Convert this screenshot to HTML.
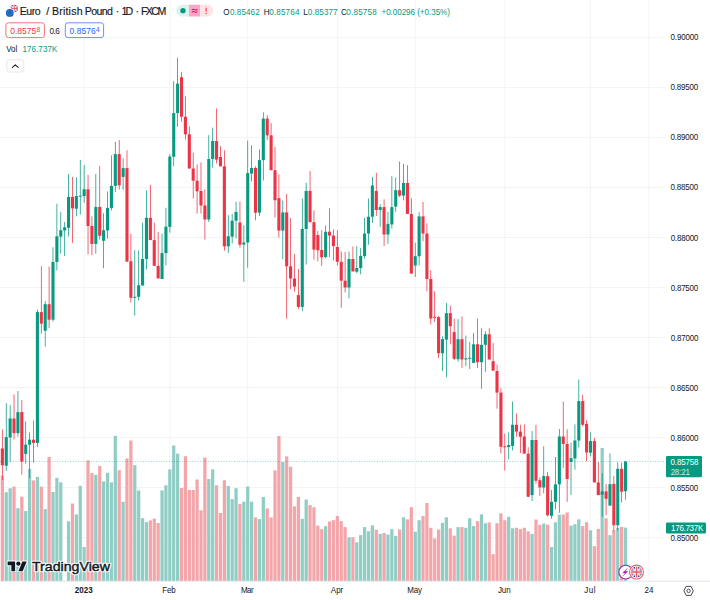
<!DOCTYPE html>
<html><head><meta charset="utf-8"><title>EURGBP</title>
<style>
html,body{margin:0;padding:0;background:#fff;}
body{width:710px;height:600px;position:relative;overflow:hidden;font-family:"Liberation Sans",sans-serif;color:#131722;}
svg.chart{position:absolute;left:0;top:0;}
.t{position:absolute;white-space:nowrap;line-height:1;}
</style></head><body>
<svg class="chart" width="710" height="600" viewBox="0 0 710 600">
<rect x="0" y="36.9" width="665" height="0.8" fill="#f1f1f3"/>
<rect x="0" y="86.94" width="665" height="0.8" fill="#f1f1f3"/>
<rect x="0" y="136.98" width="665" height="0.8" fill="#f1f1f3"/>
<rect x="0" y="187.02" width="665" height="0.8" fill="#f1f1f3"/>
<rect x="0" y="237.06" width="665" height="0.8" fill="#f1f1f3"/>
<rect x="0" y="287.1" width="665" height="0.8" fill="#f1f1f3"/>
<rect x="0" y="337.14" width="665" height="0.8" fill="#f1f1f3"/>
<rect x="0" y="387.18" width="665" height="0.8" fill="#f1f1f3"/>
<rect x="0" y="437.22" width="665" height="0.8" fill="#f1f1f3"/>
<rect x="0" y="487.26" width="665" height="0.8" fill="#f1f1f3"/>
<rect x="0" y="537.3" width="665" height="0.8" fill="#f1f1f3"/>
<rect x="83.74" y="0" width="0.8" height="581" fill="#f1f1f3"/>
<rect x="169.44" y="0" width="0.8" height="581" fill="#f1f1f3"/>
<rect x="247.33" y="0" width="0.8" height="581" fill="#f1f1f3"/>
<rect x="336.92" y="0" width="0.8" height="581" fill="#f1f1f3"/>
<rect x="414.82" y="0" width="0.8" height="581" fill="#f1f1f3"/>
<rect x="504.41" y="0" width="0.8" height="581" fill="#f1f1f3"/>
<rect x="590.1" y="0" width="0.8" height="581" fill="#f1f1f3"/>
<rect x="648.52" y="0" width="0.8" height="581" fill="#f1f1f3"/>
<rect x="0.73" y="475.6" width="3.25" height="105.4" fill="#f3a5aa"/>
<rect x="4.62" y="492.2" width="3.25" height="88.8" fill="#90cdc5"/>
<rect x="8.52" y="488.3" width="3.25" height="92.7" fill="#90cdc5"/>
<rect x="12.41" y="486.6" width="3.25" height="94.4" fill="#f3a5aa"/>
<rect x="16.3" y="508.2" width="3.25" height="72.8" fill="#90cdc5"/>
<rect x="20.2" y="496.8" width="3.25" height="84.2" fill="#f3a5aa"/>
<rect x="24.1" y="511.1" width="3.25" height="69.9" fill="#90cdc5"/>
<rect x="27.99" y="468.9" width="3.25" height="112.1" fill="#90cdc5"/>
<rect x="31.88" y="480.4" width="3.25" height="100.6" fill="#f3a5aa"/>
<rect x="35.78" y="477" width="3.25" height="104" fill="#90cdc5"/>
<rect x="39.68" y="486.6" width="3.25" height="94.4" fill="#f3a5aa"/>
<rect x="43.57" y="509.1" width="3.25" height="71.9" fill="#90cdc5"/>
<rect x="47.47" y="457" width="3.25" height="124" fill="#f3a5aa"/>
<rect x="51.36" y="492" width="3.25" height="89" fill="#90cdc5"/>
<rect x="55.26" y="477.8" width="3.25" height="103.2" fill="#90cdc5"/>
<rect x="59.15" y="482.4" width="3.25" height="98.6" fill="#90cdc5"/>
<rect x="66.94" y="521.3" width="3.25" height="59.7" fill="#90cdc5"/>
<rect x="70.83" y="503.5" width="3.25" height="77.5" fill="#f3a5aa"/>
<rect x="74.73" y="514.5" width="3.25" height="66.5" fill="#90cdc5"/>
<rect x="78.62" y="485.8" width="3.25" height="95.2" fill="#90cdc5"/>
<rect x="82.52" y="547" width="3.25" height="34" fill="#90cdc5"/>
<rect x="86.41" y="460.4" width="3.25" height="120.6" fill="#f3a5aa"/>
<rect x="90.31" y="473.1" width="3.25" height="107.9" fill="#f3a5aa"/>
<rect x="94.2" y="474.8" width="3.25" height="106.2" fill="#90cdc5"/>
<rect x="98.1" y="466" width="3.25" height="115" fill="#f3a5aa"/>
<rect x="101.99" y="481.5" width="3.25" height="99.5" fill="#90cdc5"/>
<rect x="105.89" y="472.8" width="3.25" height="108.2" fill="#90cdc5"/>
<rect x="109.78" y="482.4" width="3.25" height="98.6" fill="#90cdc5"/>
<rect x="113.68" y="435.9" width="3.25" height="145.1" fill="#90cdc5"/>
<rect x="117.57" y="470.2" width="3.25" height="110.8" fill="#f3a5aa"/>
<rect x="121.47" y="501.8" width="3.25" height="79.2" fill="#90cdc5"/>
<rect x="125.36" y="458.4" width="3.25" height="122.6" fill="#f3a5aa"/>
<rect x="129.26" y="440.5" width="3.25" height="140.5" fill="#f3a5aa"/>
<rect x="133.16" y="465.2" width="3.25" height="115.8" fill="#90cdc5"/>
<rect x="137.05" y="490.5" width="3.25" height="90.5" fill="#90cdc5"/>
<rect x="140.94" y="518.2" width="3.25" height="62.8" fill="#90cdc5"/>
<rect x="144.84" y="522.1" width="3.25" height="58.9" fill="#90cdc5"/>
<rect x="148.73" y="520.4" width="3.25" height="60.6" fill="#f3a5aa"/>
<rect x="152.63" y="518.7" width="3.25" height="62.3" fill="#f3a5aa"/>
<rect x="156.53" y="523" width="3.25" height="58" fill="#f3a5aa"/>
<rect x="160.42" y="490.5" width="3.25" height="90.5" fill="#90cdc5"/>
<rect x="164.31" y="485.3" width="3.25" height="95.7" fill="#90cdc5"/>
<rect x="168.21" y="469.4" width="3.25" height="111.6" fill="#90cdc5"/>
<rect x="172.1" y="445.5" width="3.25" height="135.5" fill="#90cdc5"/>
<rect x="176" y="453.7" width="3.25" height="127.3" fill="#90cdc5"/>
<rect x="179.89" y="488" width="3.25" height="93" fill="#f3a5aa"/>
<rect x="183.79" y="456.2" width="3.25" height="124.8" fill="#f3a5aa"/>
<rect x="187.69" y="490" width="3.25" height="91" fill="#f3a5aa"/>
<rect x="191.58" y="490" width="3.25" height="91" fill="#f3a5aa"/>
<rect x="195.47" y="479.5" width="3.25" height="101.5" fill="#f3a5aa"/>
<rect x="199.37" y="510.3" width="3.25" height="70.7" fill="#f3a5aa"/>
<rect x="203.26" y="457.5" width="3.25" height="123.5" fill="#f3a5aa"/>
<rect x="207.16" y="479" width="3.25" height="102" fill="#90cdc5"/>
<rect x="211.06" y="469.4" width="3.25" height="111.6" fill="#90cdc5"/>
<rect x="214.95" y="485.3" width="3.25" height="95.7" fill="#f3a5aa"/>
<rect x="218.84" y="513" width="3.25" height="68" fill="#f3a5aa"/>
<rect x="222.74" y="480.2" width="3.25" height="100.8" fill="#f3a5aa"/>
<rect x="226.63" y="486" width="3.25" height="95" fill="#90cdc5"/>
<rect x="230.53" y="499.2" width="3.25" height="81.8" fill="#90cdc5"/>
<rect x="234.42" y="488.2" width="3.25" height="92.8" fill="#90cdc5"/>
<rect x="238.32" y="503.9" width="3.25" height="77.1" fill="#f3a5aa"/>
<rect x="242.22" y="501.7" width="3.25" height="79.3" fill="#90cdc5"/>
<rect x="246.11" y="486.5" width="3.25" height="94.5" fill="#90cdc5"/>
<rect x="250" y="501.7" width="3.25" height="79.3" fill="#90cdc5"/>
<rect x="253.9" y="517.4" width="3.25" height="63.6" fill="#f3a5aa"/>
<rect x="257.8" y="519.1" width="3.25" height="61.9" fill="#90cdc5"/>
<rect x="261.69" y="497" width="3.25" height="84" fill="#90cdc5"/>
<rect x="265.59" y="508.4" width="3.25" height="72.6" fill="#f3a5aa"/>
<rect x="269.48" y="517.4" width="3.25" height="63.6" fill="#f3a5aa"/>
<rect x="273.38" y="470.4" width="3.25" height="110.6" fill="#f3a5aa"/>
<rect x="277.27" y="436" width="3.25" height="145" fill="#f3a5aa"/>
<rect x="281.17" y="462" width="3.25" height="119" fill="#90cdc5"/>
<rect x="285.06" y="456.4" width="3.25" height="124.6" fill="#f3a5aa"/>
<rect x="288.96" y="466.7" width="3.25" height="114.3" fill="#f3a5aa"/>
<rect x="292.85" y="506.4" width="3.25" height="74.6" fill="#f3a5aa"/>
<rect x="296.75" y="497" width="3.25" height="84" fill="#f3a5aa"/>
<rect x="300.64" y="518.9" width="3.25" height="62.1" fill="#90cdc5"/>
<rect x="304.54" y="499.5" width="3.25" height="81.5" fill="#90cdc5"/>
<rect x="308.43" y="505.1" width="3.25" height="75.9" fill="#f3a5aa"/>
<rect x="312.33" y="507.3" width="3.25" height="73.7" fill="#f3a5aa"/>
<rect x="316.22" y="525.7" width="3.25" height="55.3" fill="#f3a5aa"/>
<rect x="320.12" y="529.2" width="3.25" height="51.8" fill="#f3a5aa"/>
<rect x="324.01" y="526.2" width="3.25" height="54.8" fill="#90cdc5"/>
<rect x="327.91" y="521.5" width="3.25" height="59.5" fill="#f3a5aa"/>
<rect x="331.8" y="520.2" width="3.25" height="60.8" fill="#f3a5aa"/>
<rect x="335.7" y="516" width="3.25" height="65" fill="#f3a5aa"/>
<rect x="339.59" y="521.2" width="3.25" height="59.8" fill="#f3a5aa"/>
<rect x="343.49" y="527.1" width="3.25" height="53.9" fill="#f3a5aa"/>
<rect x="347.38" y="537.3" width="3.25" height="43.7" fill="#90cdc5"/>
<rect x="351.28" y="537.3" width="3.25" height="43.7" fill="#f3a5aa"/>
<rect x="355.17" y="542.3" width="3.25" height="38.7" fill="#90cdc5"/>
<rect x="359.06" y="535.1" width="3.25" height="45.9" fill="#90cdc5"/>
<rect x="362.96" y="527.1" width="3.25" height="53.9" fill="#90cdc5"/>
<rect x="366.86" y="531.2" width="3.25" height="49.8" fill="#90cdc5"/>
<rect x="370.75" y="525.4" width="3.25" height="55.6" fill="#90cdc5"/>
<rect x="374.65" y="529.7" width="3.25" height="51.3" fill="#f3a5aa"/>
<rect x="378.54" y="533.9" width="3.25" height="47.1" fill="#90cdc5"/>
<rect x="382.44" y="533" width="3.25" height="48" fill="#f3a5aa"/>
<rect x="386.33" y="534.6" width="3.25" height="46.4" fill="#90cdc5"/>
<rect x="390.23" y="529.2" width="3.25" height="51.8" fill="#90cdc5"/>
<rect x="394.12" y="535.9" width="3.25" height="45.1" fill="#90cdc5"/>
<rect x="398.02" y="529.5" width="3.25" height="51.5" fill="#f3a5aa"/>
<rect x="401.91" y="517.3" width="3.25" height="63.7" fill="#90cdc5"/>
<rect x="405.81" y="519.4" width="3.25" height="61.6" fill="#f3a5aa"/>
<rect x="409.7" y="507.2" width="3.25" height="73.8" fill="#f3a5aa"/>
<rect x="413.6" y="531.7" width="3.25" height="49.3" fill="#90cdc5"/>
<rect x="417.49" y="520.2" width="3.25" height="60.8" fill="#90cdc5"/>
<rect x="421.39" y="516" width="3.25" height="65" fill="#f3a5aa"/>
<rect x="425.28" y="503" width="3.25" height="78" fill="#f3a5aa"/>
<rect x="429.18" y="527.8" width="3.25" height="53.2" fill="#f3a5aa"/>
<rect x="433.07" y="538.4" width="3.25" height="42.6" fill="#f3a5aa"/>
<rect x="436.97" y="529.5" width="3.25" height="51.5" fill="#f3a5aa"/>
<rect x="440.86" y="522.9" width="3.25" height="58.1" fill="#90cdc5"/>
<rect x="444.76" y="517.3" width="3.25" height="63.7" fill="#90cdc5"/>
<rect x="448.65" y="528.3" width="3.25" height="52.7" fill="#f3a5aa"/>
<rect x="452.55" y="535.6" width="3.25" height="45.4" fill="#f3a5aa"/>
<rect x="456.44" y="527.1" width="3.25" height="53.9" fill="#90cdc5"/>
<rect x="460.34" y="527.1" width="3.25" height="53.9" fill="#f3a5aa"/>
<rect x="464.23" y="527.8" width="3.25" height="53.2" fill="#90cdc5"/>
<rect x="468.12" y="518.2" width="3.25" height="62.8" fill="#90cdc5"/>
<rect x="472.02" y="526.1" width="3.25" height="54.9" fill="#90cdc5"/>
<rect x="475.92" y="521.2" width="3.25" height="59.8" fill="#f3a5aa"/>
<rect x="479.81" y="514.3" width="3.25" height="66.7" fill="#90cdc5"/>
<rect x="483.71" y="523.2" width="3.25" height="57.8" fill="#90cdc5"/>
<rect x="487.6" y="522.4" width="3.25" height="58.6" fill="#f3a5aa"/>
<rect x="491.5" y="554.2" width="3.25" height="26.8" fill="#f3a5aa"/>
<rect x="495.39" y="523.2" width="3.25" height="57.8" fill="#f3a5aa"/>
<rect x="499.29" y="513.4" width="3.25" height="67.6" fill="#f3a5aa"/>
<rect x="503.18" y="520.2" width="3.25" height="60.8" fill="#f3a5aa"/>
<rect x="507.08" y="516.8" width="3.25" height="64.2" fill="#90cdc5"/>
<rect x="510.97" y="528.3" width="3.25" height="52.7" fill="#90cdc5"/>
<rect x="514.87" y="527.8" width="3.25" height="53.2" fill="#f3a5aa"/>
<rect x="518.76" y="529.2" width="3.25" height="51.8" fill="#f3a5aa"/>
<rect x="522.65" y="527.8" width="3.25" height="53.2" fill="#f3a5aa"/>
<rect x="526.55" y="531.3" width="3.25" height="49.7" fill="#f3a5aa"/>
<rect x="530.45" y="533.9" width="3.25" height="47.1" fill="#90cdc5"/>
<rect x="534.34" y="519.5" width="3.25" height="61.5" fill="#f3a5aa"/>
<rect x="538.24" y="524.9" width="3.25" height="56.1" fill="#f3a5aa"/>
<rect x="542.13" y="523.6" width="3.25" height="57.4" fill="#90cdc5"/>
<rect x="546.02" y="524.7" width="3.25" height="56.3" fill="#f3a5aa"/>
<rect x="549.92" y="547" width="3.25" height="34" fill="#90cdc5"/>
<rect x="553.82" y="522.3" width="3.25" height="58.7" fill="#90cdc5"/>
<rect x="557.71" y="514.7" width="3.25" height="66.3" fill="#90cdc5"/>
<rect x="561.61" y="514.6" width="3.25" height="66.4" fill="#f3a5aa"/>
<rect x="565.5" y="512.5" width="3.25" height="68.5" fill="#f3a5aa"/>
<rect x="569.39" y="525.6" width="3.25" height="55.4" fill="#90cdc5"/>
<rect x="573.29" y="524.2" width="3.25" height="56.8" fill="#90cdc5"/>
<rect x="577.19" y="519.3" width="3.25" height="61.7" fill="#90cdc5"/>
<rect x="581.08" y="526.1" width="3.25" height="54.9" fill="#f3a5aa"/>
<rect x="584.98" y="522.2" width="3.25" height="58.8" fill="#f3a5aa"/>
<rect x="588.87" y="530.3" width="3.25" height="50.7" fill="#90cdc5"/>
<rect x="592.76" y="546.2" width="3.25" height="34.8" fill="#f3a5aa"/>
<rect x="596.66" y="528.9" width="3.25" height="52.1" fill="#f3a5aa"/>
<rect x="600.56" y="448" width="3.25" height="133" fill="#90cdc5"/>
<rect x="604.45" y="518.3" width="3.25" height="62.7" fill="#f3a5aa"/>
<rect x="608.35" y="535.2" width="3.25" height="45.8" fill="#90cdc5"/>
<rect x="612.24" y="530.3" width="3.25" height="50.7" fill="#f3a5aa"/>
<rect x="616.13" y="528" width="3.25" height="53" fill="#90cdc5"/>
<rect x="620.03" y="526.9" width="3.25" height="54.1" fill="#f3a5aa"/>
<rect x="623.93" y="527.6" width="3.25" height="53.4" fill="#90cdc5"/>
<rect x="1.98" y="429.5" width="0.75" height="50.5" fill="#ec3446"/>
<rect x="0.8" y="448.4" width="3.1" height="16.9" fill="#ec3446"/>
<rect x="5.87" y="403.2" width="0.75" height="67.6" fill="#089981"/>
<rect x="4.7" y="437.1" width="3.1" height="28.6" fill="#089981"/>
<rect x="9.77" y="405" width="0.75" height="57" fill="#089981"/>
<rect x="8.59" y="418.5" width="3.1" height="19" fill="#089981"/>
<rect x="13.66" y="394.4" width="0.75" height="45.1" fill="#ec3446"/>
<rect x="12.48" y="418.5" width="3.1" height="14.7" fill="#ec3446"/>
<rect x="17.55" y="391" width="0.75" height="45.6" fill="#089981"/>
<rect x="16.38" y="412.1" width="3.1" height="21.1" fill="#089981"/>
<rect x="21.45" y="400" width="0.75" height="74.6" fill="#ec3446"/>
<rect x="20.28" y="412.1" width="3.1" height="49.5" fill="#ec3446"/>
<rect x="25.35" y="421.4" width="0.75" height="42.3" fill="#089981"/>
<rect x="24.17" y="444.6" width="3.1" height="9.3" fill="#089981"/>
<rect x="29.24" y="432.4" width="0.75" height="45.6" fill="#089981"/>
<rect x="28.07" y="439.7" width="3.1" height="5" fill="#089981"/>
<rect x="33.13" y="420.6" width="0.75" height="42.2" fill="#ec3446"/>
<rect x="31.96" y="439.7" width="3.1" height="3.2" fill="#ec3446"/>
<rect x="37.03" y="309.6" width="0.75" height="137.5" fill="#089981"/>
<rect x="35.86" y="312.1" width="3.1" height="130.8" fill="#089981"/>
<rect x="40.93" y="266.2" width="0.75" height="67.5" fill="#ec3446"/>
<rect x="39.75" y="312.1" width="3.1" height="11.5" fill="#ec3446"/>
<rect x="44.82" y="301.1" width="0.75" height="45.7" fill="#089981"/>
<rect x="43.65" y="304.2" width="3.1" height="26.5" fill="#089981"/>
<rect x="48.72" y="266.5" width="0.75" height="61.7" fill="#ec3446"/>
<rect x="47.54" y="304.2" width="3.1" height="15.5" fill="#ec3446"/>
<rect x="52.61" y="247.3" width="0.75" height="74.1" fill="#089981"/>
<rect x="51.44" y="262" width="3.1" height="57.7" fill="#089981"/>
<rect x="56.51" y="203.7" width="0.75" height="66.7" fill="#089981"/>
<rect x="55.33" y="236.3" width="3.1" height="25.7" fill="#089981"/>
<rect x="60.4" y="212.1" width="0.75" height="41.4" fill="#089981"/>
<rect x="59.23" y="230.2" width="3.1" height="6.4" fill="#089981"/>
<rect x="64.3" y="222" width="0.75" height="34" fill="#089981"/>
<rect x="63.12" y="227.3" width="3.1" height="3.1" fill="#089981"/>
<rect x="68.19" y="174" width="0.75" height="62.6" fill="#089981"/>
<rect x="67.02" y="196.9" width="3.1" height="30.9" fill="#089981"/>
<rect x="72.08" y="176.9" width="0.75" height="66" fill="#ec3446"/>
<rect x="70.91" y="196.9" width="3.1" height="11.5" fill="#ec3446"/>
<rect x="75.98" y="177.4" width="0.75" height="38.9" fill="#089981"/>
<rect x="74.8" y="196" width="3.1" height="12.7" fill="#089981"/>
<rect x="79.88" y="160" width="0.75" height="54.6" fill="#089981"/>
<rect x="78.7" y="195.65" width="3.1" height="1" fill="#089981"/>
<rect x="83.77" y="165" width="0.75" height="37.8" fill="#089981"/>
<rect x="82.59" y="189.3" width="3.1" height="6.7" fill="#089981"/>
<rect x="87.66" y="174.9" width="0.75" height="79.5" fill="#ec3446"/>
<rect x="86.49" y="189.3" width="3.1" height="36.7" fill="#ec3446"/>
<rect x="91.56" y="216.3" width="0.75" height="38.9" fill="#ec3446"/>
<rect x="90.38" y="226" width="3.1" height="17.9" fill="#ec3446"/>
<rect x="95.45" y="173.9" width="0.75" height="79.6" fill="#089981"/>
<rect x="94.28" y="207" width="3.1" height="36.9" fill="#089981"/>
<rect x="99.35" y="165.9" width="0.75" height="73.6" fill="#ec3446"/>
<rect x="98.17" y="207" width="3.1" height="28.8" fill="#ec3446"/>
<rect x="103.24" y="213.3" width="0.75" height="54.9" fill="#089981"/>
<rect x="102.07" y="230.2" width="3.1" height="10.6" fill="#089981"/>
<rect x="107.14" y="191.5" width="0.75" height="47.3" fill="#089981"/>
<rect x="105.97" y="207.9" width="3.1" height="22.5" fill="#089981"/>
<rect x="111.03" y="155.4" width="0.75" height="55" fill="#089981"/>
<rect x="109.86" y="185.9" width="3.1" height="22" fill="#089981"/>
<rect x="114.93" y="141.9" width="0.75" height="50.1" fill="#089981"/>
<rect x="113.75" y="154.1" width="3.1" height="31.8" fill="#089981"/>
<rect x="118.82" y="140" width="0.75" height="49.6" fill="#ec3446"/>
<rect x="117.65" y="154.1" width="3.1" height="31.2" fill="#ec3446"/>
<rect x="122.72" y="158.3" width="0.75" height="31.6" fill="#089981"/>
<rect x="121.55" y="168.1" width="3.1" height="8.8" fill="#089981"/>
<rect x="126.61" y="150.2" width="0.75" height="111.4" fill="#ec3446"/>
<rect x="125.44" y="168.1" width="3.1" height="93.5" fill="#ec3446"/>
<rect x="130.51" y="233.7" width="0.75" height="68.9" fill="#ec3446"/>
<rect x="129.33" y="261.2" width="3.1" height="36.6" fill="#ec3446"/>
<rect x="134.41" y="250.2" width="0.75" height="65.3" fill="#089981"/>
<rect x="133.23" y="296.8" width="3.1" height="1" fill="#089981"/>
<rect x="138.3" y="250.6" width="0.75" height="50" fill="#089981"/>
<rect x="137.12" y="285.2" width="3.1" height="11.6" fill="#089981"/>
<rect x="142.19" y="222.7" width="0.75" height="62.8" fill="#089981"/>
<rect x="141.02" y="259" width="3.1" height="26.5" fill="#089981"/>
<rect x="146.09" y="190.3" width="0.75" height="79.2" fill="#089981"/>
<rect x="144.91" y="217.8" width="3.1" height="41.2" fill="#089981"/>
<rect x="149.98" y="185" width="0.75" height="55.1" fill="#ec3446"/>
<rect x="148.81" y="217.8" width="3.1" height="22.3" fill="#ec3446"/>
<rect x="153.88" y="222.7" width="0.75" height="43.1" fill="#ec3446"/>
<rect x="152.7" y="240.1" width="3.1" height="25.7" fill="#ec3446"/>
<rect x="157.78" y="232" width="0.75" height="46.4" fill="#ec3446"/>
<rect x="156.6" y="265.8" width="3.1" height="12.6" fill="#ec3446"/>
<rect x="161.67" y="233.7" width="0.75" height="45.3" fill="#089981"/>
<rect x="160.49" y="253.1" width="3.1" height="25.9" fill="#089981"/>
<rect x="165.56" y="207.7" width="0.75" height="57.7" fill="#089981"/>
<rect x="164.39" y="226.6" width="3.1" height="26.5" fill="#089981"/>
<rect x="169.46" y="154.1" width="0.75" height="78.7" fill="#089981"/>
<rect x="168.28" y="156.6" width="3.1" height="70.3" fill="#089981"/>
<rect x="173.35" y="81.1" width="0.75" height="85.2" fill="#089981"/>
<rect x="172.18" y="113.1" width="3.1" height="43.7" fill="#089981"/>
<rect x="177.25" y="57.7" width="0.75" height="69.1" fill="#089981"/>
<rect x="176.07" y="83.6" width="3.1" height="29.5" fill="#089981"/>
<rect x="181.14" y="71.8" width="0.75" height="49.9" fill="#ec3446"/>
<rect x="179.97" y="77.2" width="3.1" height="39.5" fill="#ec3446"/>
<rect x="185.04" y="96.3" width="0.75" height="43.1" fill="#ec3446"/>
<rect x="183.86" y="116.7" width="3.1" height="17.6" fill="#ec3446"/>
<rect x="188.94" y="126.4" width="0.75" height="42.1" fill="#ec3446"/>
<rect x="187.76" y="134.3" width="3.1" height="34.2" fill="#ec3446"/>
<rect x="192.83" y="152.8" width="0.75" height="45.6" fill="#ec3446"/>
<rect x="191.65" y="168.5" width="3.1" height="12.2" fill="#ec3446"/>
<rect x="196.72" y="164.6" width="0.75" height="49" fill="#ec3446"/>
<rect x="195.55" y="180.7" width="3.1" height="10.6" fill="#ec3446"/>
<rect x="200.62" y="162.4" width="0.75" height="51.2" fill="#ec3446"/>
<rect x="199.44" y="191" width="3.1" height="14.5" fill="#ec3446"/>
<rect x="204.51" y="189.2" width="0.75" height="50.4" fill="#ec3446"/>
<rect x="203.34" y="205.5" width="3.1" height="14" fill="#ec3446"/>
<rect x="208.41" y="135.1" width="0.75" height="86.9" fill="#089981"/>
<rect x="207.23" y="159" width="3.1" height="60.5" fill="#089981"/>
<rect x="212.31" y="127.6" width="0.75" height="39.9" fill="#089981"/>
<rect x="211.13" y="141" width="3.1" height="18" fill="#089981"/>
<rect x="216.2" y="108.5" width="0.75" height="55" fill="#ec3446"/>
<rect x="215.02" y="141" width="3.1" height="18.6" fill="#ec3446"/>
<rect x="220.09" y="146" width="0.75" height="20.3" fill="#ec3446"/>
<rect x="218.92" y="157" width="3.1" height="9.3" fill="#ec3446"/>
<rect x="223.99" y="150.3" width="0.75" height="100.3" fill="#ec3446"/>
<rect x="222.81" y="166.3" width="3.1" height="80" fill="#ec3446"/>
<rect x="227.88" y="215.2" width="0.75" height="37.7" fill="#089981"/>
<rect x="226.71" y="236.3" width="3.1" height="10" fill="#089981"/>
<rect x="231.78" y="213.8" width="0.75" height="29.7" fill="#089981"/>
<rect x="230.6" y="220.7" width="3.1" height="16" fill="#089981"/>
<rect x="235.67" y="201.8" width="0.75" height="36.6" fill="#089981"/>
<rect x="234.5" y="211.9" width="3.1" height="8.8" fill="#089981"/>
<rect x="239.57" y="201.5" width="0.75" height="46.2" fill="#ec3446"/>
<rect x="238.39" y="222.5" width="3.1" height="22.2" fill="#ec3446"/>
<rect x="243.47" y="225.4" width="0.75" height="56.4" fill="#089981"/>
<rect x="242.29" y="242.5" width="3.1" height="2.1" fill="#089981"/>
<rect x="247.36" y="140.6" width="0.75" height="127.1" fill="#089981"/>
<rect x="246.18" y="173.1" width="3.1" height="69.4" fill="#089981"/>
<rect x="251.25" y="145.2" width="0.75" height="36.3" fill="#089981"/>
<rect x="250.08" y="168" width="3.1" height="5.6" fill="#089981"/>
<rect x="255.15" y="166.3" width="0.75" height="54" fill="#ec3446"/>
<rect x="253.97" y="168" width="3.1" height="44.7" fill="#ec3446"/>
<rect x="259.05" y="149.4" width="0.75" height="66.7" fill="#089981"/>
<rect x="257.87" y="160.1" width="3.1" height="52.6" fill="#089981"/>
<rect x="262.94" y="112.3" width="0.75" height="68.2" fill="#089981"/>
<rect x="261.76" y="118.6" width="3.1" height="41.5" fill="#089981"/>
<rect x="266.84" y="115.2" width="0.75" height="24.9" fill="#ec3446"/>
<rect x="265.66" y="118.6" width="3.1" height="16.7" fill="#ec3446"/>
<rect x="270.73" y="123.2" width="0.75" height="47" fill="#ec3446"/>
<rect x="269.56" y="135.3" width="3.1" height="34.9" fill="#ec3446"/>
<rect x="274.62" y="146.9" width="0.75" height="70.6" fill="#ec3446"/>
<rect x="273.45" y="170.2" width="3.1" height="30" fill="#ec3446"/>
<rect x="278.52" y="174.5" width="0.75" height="63.1" fill="#ec3446"/>
<rect x="277.35" y="198.2" width="3.1" height="32.4" fill="#ec3446"/>
<rect x="282.42" y="200.6" width="0.75" height="58.5" fill="#089981"/>
<rect x="281.24" y="212.4" width="3.1" height="18.2" fill="#089981"/>
<rect x="286.31" y="193.8" width="0.75" height="124.9" fill="#ec3446"/>
<rect x="285.13" y="212.4" width="3.1" height="53.9" fill="#ec3446"/>
<rect x="290.21" y="218" width="0.75" height="71.2" fill="#ec3446"/>
<rect x="289.03" y="266.3" width="3.1" height="12.2" fill="#ec3446"/>
<rect x="294.1" y="254" width="0.75" height="37.7" fill="#ec3446"/>
<rect x="292.93" y="278.5" width="3.1" height="8.1" fill="#ec3446"/>
<rect x="298" y="268.9" width="0.75" height="40.2" fill="#ec3446"/>
<rect x="296.82" y="295.1" width="3.1" height="11.8" fill="#ec3446"/>
<rect x="301.89" y="198.5" width="0.75" height="112.6" fill="#089981"/>
<rect x="300.72" y="229" width="3.1" height="77.9" fill="#089981"/>
<rect x="305.79" y="182.8" width="0.75" height="81.8" fill="#089981"/>
<rect x="304.61" y="190.9" width="3.1" height="38.1" fill="#089981"/>
<rect x="309.68" y="171" width="0.75" height="51.2" fill="#ec3446"/>
<rect x="308.5" y="190.9" width="3.1" height="31.3" fill="#ec3446"/>
<rect x="313.58" y="210.4" width="0.75" height="49.2" fill="#ec3446"/>
<rect x="312.4" y="222.2" width="3.1" height="27.4" fill="#ec3446"/>
<rect x="317.47" y="231" width="0.75" height="30.3" fill="#ec3446"/>
<rect x="316.3" y="235.1" width="3.1" height="15.2" fill="#ec3446"/>
<rect x="321.37" y="230.1" width="0.75" height="35.9" fill="#ec3446"/>
<rect x="320.19" y="250" width="3.1" height="7.3" fill="#ec3446"/>
<rect x="325.26" y="225.6" width="0.75" height="32.8" fill="#089981"/>
<rect x="324.09" y="231.8" width="3.1" height="25.3" fill="#089981"/>
<rect x="329.16" y="208.2" width="0.75" height="48.8" fill="#ec3446"/>
<rect x="327.98" y="231.7" width="3.1" height="3.9" fill="#ec3446"/>
<rect x="333.05" y="229.3" width="0.75" height="31.1" fill="#ec3446"/>
<rect x="331.88" y="235.6" width="3.1" height="10.5" fill="#ec3446"/>
<rect x="336.95" y="230.1" width="0.75" height="35.4" fill="#ec3446"/>
<rect x="335.77" y="247" width="3.1" height="14.8" fill="#ec3446"/>
<rect x="340.84" y="251.5" width="0.75" height="56.2" fill="#ec3446"/>
<rect x="339.67" y="261.8" width="3.1" height="18.9" fill="#ec3446"/>
<rect x="344.74" y="252" width="0.75" height="40.5" fill="#ec3446"/>
<rect x="343.56" y="280.7" width="3.1" height="6.8" fill="#ec3446"/>
<rect x="348.63" y="251.5" width="0.75" height="46.9" fill="#089981"/>
<rect x="347.46" y="259" width="3.1" height="28.5" fill="#089981"/>
<rect x="352.53" y="246.5" width="0.75" height="24.9" fill="#ec3446"/>
<rect x="351.35" y="259" width="3.1" height="12.4" fill="#ec3446"/>
<rect x="356.42" y="246.1" width="0.75" height="27" fill="#089981"/>
<rect x="355.25" y="268" width="3.1" height="3.7" fill="#089981"/>
<rect x="360.31" y="247.8" width="0.75" height="26.5" fill="#089981"/>
<rect x="359.14" y="255.8" width="3.1" height="12.2" fill="#089981"/>
<rect x="364.21" y="217.8" width="0.75" height="40.8" fill="#089981"/>
<rect x="363.04" y="233.5" width="3.1" height="22.5" fill="#089981"/>
<rect x="368.11" y="198.6" width="0.75" height="46.1" fill="#089981"/>
<rect x="366.93" y="216.7" width="3.1" height="16.8" fill="#089981"/>
<rect x="372" y="177" width="0.75" height="45.8" fill="#089981"/>
<rect x="370.82" y="185.5" width="3.1" height="31.2" fill="#089981"/>
<rect x="375.9" y="172.8" width="0.75" height="43.2" fill="#ec3446"/>
<rect x="374.72" y="191" width="3.1" height="19" fill="#ec3446"/>
<rect x="379.79" y="204.2" width="0.75" height="22.7" fill="#089981"/>
<rect x="378.62" y="207.1" width="3.1" height="2.9" fill="#089981"/>
<rect x="383.69" y="199.3" width="0.75" height="46.7" fill="#ec3446"/>
<rect x="382.51" y="207.1" width="3.1" height="27.4" fill="#ec3446"/>
<rect x="387.58" y="211.7" width="0.75" height="32.1" fill="#089981"/>
<rect x="386.41" y="223.9" width="3.1" height="10.6" fill="#089981"/>
<rect x="391.48" y="176.2" width="0.75" height="52.4" fill="#089981"/>
<rect x="390.3" y="207.1" width="3.1" height="17.3" fill="#089981"/>
<rect x="395.37" y="177.5" width="0.75" height="34.2" fill="#089981"/>
<rect x="394.19" y="190.2" width="3.1" height="16.4" fill="#089981"/>
<rect x="399.27" y="161.5" width="0.75" height="35.5" fill="#ec3446"/>
<rect x="398.09" y="190.2" width="3.1" height="5.4" fill="#ec3446"/>
<rect x="403.16" y="163.9" width="0.75" height="36.5" fill="#089981"/>
<rect x="401.99" y="183" width="3.1" height="12.6" fill="#089981"/>
<rect x="407.06" y="165.2" width="0.75" height="48.7" fill="#ec3446"/>
<rect x="405.88" y="183" width="3.1" height="30.9" fill="#ec3446"/>
<rect x="410.95" y="198.2" width="0.75" height="75.4" fill="#ec3446"/>
<rect x="409.78" y="213.9" width="3.1" height="59.7" fill="#ec3446"/>
<rect x="414.85" y="242.7" width="0.75" height="34.3" fill="#089981"/>
<rect x="413.67" y="256.2" width="3.1" height="9.3" fill="#089981"/>
<rect x="418.74" y="212.2" width="0.75" height="53.3" fill="#089981"/>
<rect x="417.56" y="216.4" width="3.1" height="39.8" fill="#089981"/>
<rect x="422.64" y="202" width="0.75" height="39.2" fill="#ec3446"/>
<rect x="421.46" y="216.4" width="3.1" height="17.1" fill="#ec3446"/>
<rect x="426.53" y="223.2" width="0.75" height="68" fill="#ec3446"/>
<rect x="425.36" y="233.5" width="3.1" height="45.5" fill="#ec3446"/>
<rect x="430.43" y="270.2" width="0.75" height="54.2" fill="#ec3446"/>
<rect x="429.25" y="279" width="3.1" height="39.6" fill="#ec3446"/>
<rect x="434.32" y="291.2" width="0.75" height="30.8" fill="#ec3446"/>
<rect x="433.15" y="316.9" width="3.1" height="1" fill="#ec3446"/>
<rect x="438.22" y="315.9" width="0.75" height="42.1" fill="#ec3446"/>
<rect x="437.04" y="317.2" width="3.1" height="36" fill="#ec3446"/>
<rect x="442.11" y="336.3" width="0.75" height="34.7" fill="#089981"/>
<rect x="440.94" y="339.2" width="3.1" height="14" fill="#089981"/>
<rect x="446.01" y="303" width="0.75" height="74.2" fill="#089981"/>
<rect x="444.83" y="313.2" width="3.1" height="26.5" fill="#089981"/>
<rect x="449.9" y="305.6" width="0.75" height="38.7" fill="#ec3446"/>
<rect x="448.73" y="313.2" width="3.1" height="13" fill="#ec3446"/>
<rect x="453.8" y="318.6" width="0.75" height="41.4" fill="#ec3446"/>
<rect x="452.62" y="332.1" width="3.1" height="26.7" fill="#ec3446"/>
<rect x="457.69" y="319.1" width="0.75" height="42.6" fill="#089981"/>
<rect x="456.51" y="339.2" width="3.1" height="20" fill="#089981"/>
<rect x="461.59" y="316.4" width="0.75" height="51.5" fill="#ec3446"/>
<rect x="460.41" y="339.2" width="3.1" height="20.3" fill="#ec3446"/>
<rect x="465.48" y="335.5" width="0.75" height="30.7" fill="#089981"/>
<rect x="464.31" y="358.3" width="3.1" height="1.2" fill="#089981"/>
<rect x="469.38" y="341.9" width="0.75" height="27.1" fill="#089981"/>
<rect x="468.2" y="357.8" width="3.1" height="1" fill="#089981"/>
<rect x="473.27" y="333" width="0.75" height="29.9" fill="#089981"/>
<rect x="472.1" y="344.3" width="3.1" height="18.6" fill="#089981"/>
<rect x="477.17" y="318.6" width="0.75" height="49.5" fill="#ec3446"/>
<rect x="475.99" y="344.3" width="3.1" height="17.9" fill="#ec3446"/>
<rect x="481.06" y="328.2" width="0.75" height="60.5" fill="#089981"/>
<rect x="479.88" y="344.8" width="3.1" height="17.4" fill="#089981"/>
<rect x="484.96" y="331.3" width="0.75" height="40.5" fill="#089981"/>
<rect x="483.78" y="334.3" width="3.1" height="10.5" fill="#089981"/>
<rect x="488.85" y="328.2" width="0.75" height="31.3" fill="#ec3446"/>
<rect x="487.68" y="334.3" width="3.1" height="25.2" fill="#ec3446"/>
<rect x="492.75" y="342.8" width="0.75" height="27.8" fill="#ec3446"/>
<rect x="491.57" y="361.2" width="3.1" height="9.4" fill="#ec3446"/>
<rect x="496.64" y="364.7" width="0.75" height="44" fill="#ec3446"/>
<rect x="495.47" y="371" width="3.1" height="21.6" fill="#ec3446"/>
<rect x="500.54" y="388" width="0.75" height="65.5" fill="#ec3446"/>
<rect x="499.36" y="392.6" width="3.1" height="54.2" fill="#ec3446"/>
<rect x="504.43" y="433.7" width="0.75" height="36.7" fill="#ec3446"/>
<rect x="503.25" y="446.3" width="3.1" height="1" fill="#ec3446"/>
<rect x="508.33" y="432.4" width="0.75" height="27" fill="#089981"/>
<rect x="507.15" y="445" width="3.1" height="2.1" fill="#089981"/>
<rect x="512.22" y="401.5" width="0.75" height="48.9" fill="#089981"/>
<rect x="511.05" y="424.8" width="3.1" height="21.1" fill="#089981"/>
<rect x="516.12" y="413.5" width="0.75" height="23.2" fill="#ec3446"/>
<rect x="514.94" y="424.8" width="3.1" height="6.8" fill="#ec3446"/>
<rect x="520.01" y="424.8" width="0.75" height="28.2" fill="#ec3446"/>
<rect x="518.84" y="431.6" width="3.1" height="5.1" fill="#ec3446"/>
<rect x="523.9" y="424.3" width="0.75" height="29.3" fill="#ec3446"/>
<rect x="522.73" y="436.5" width="3.1" height="17.1" fill="#ec3446"/>
<rect x="527.8" y="447.2" width="0.75" height="49.6" fill="#ec3446"/>
<rect x="526.63" y="453.6" width="3.1" height="43.2" fill="#ec3446"/>
<rect x="531.7" y="431" width="0.75" height="70" fill="#089981"/>
<rect x="530.52" y="440" width="3.1" height="55.1" fill="#089981"/>
<rect x="535.59" y="424.8" width="0.75" height="58.9" fill="#ec3446"/>
<rect x="534.42" y="440" width="3.1" height="40.7" fill="#ec3446"/>
<rect x="539.49" y="477.3" width="0.75" height="18.6" fill="#ec3446"/>
<rect x="538.31" y="480.2" width="3.1" height="7.3" fill="#ec3446"/>
<rect x="543.38" y="446.2" width="0.75" height="47.2" fill="#089981"/>
<rect x="542.21" y="476.1" width="3.1" height="11.4" fill="#089981"/>
<rect x="547.27" y="472.2" width="0.75" height="44.3" fill="#ec3446"/>
<rect x="546.1" y="476.1" width="3.1" height="39.2" fill="#ec3446"/>
<rect x="551.17" y="490" width="0.75" height="28.7" fill="#089981"/>
<rect x="550" y="501.8" width="3.1" height="14.1" fill="#089981"/>
<rect x="555.07" y="457" width="0.75" height="52.4" fill="#089981"/>
<rect x="553.89" y="484.4" width="3.1" height="17.4" fill="#089981"/>
<rect x="558.96" y="429" width="0.75" height="83.8" fill="#089981"/>
<rect x="557.79" y="436.5" width="3.1" height="47.9" fill="#089981"/>
<rect x="562.86" y="401.5" width="0.75" height="66.5" fill="#ec3446"/>
<rect x="561.68" y="436.5" width="3.1" height="7.4" fill="#ec3446"/>
<rect x="566.75" y="429.3" width="0.75" height="72.5" fill="#ec3446"/>
<rect x="565.58" y="443.9" width="3.1" height="35.1" fill="#ec3446"/>
<rect x="570.64" y="442.8" width="0.75" height="52.2" fill="#089981"/>
<rect x="569.47" y="458.2" width="3.1" height="3.8" fill="#089981"/>
<rect x="574.54" y="424.3" width="0.75" height="45.4" fill="#089981"/>
<rect x="573.37" y="440.5" width="3.1" height="18" fill="#089981"/>
<rect x="578.44" y="379.4" width="0.75" height="68.2" fill="#089981"/>
<rect x="577.26" y="401.1" width="3.1" height="39.4" fill="#089981"/>
<rect x="582.33" y="394.7" width="0.75" height="31.8" fill="#ec3446"/>
<rect x="581.16" y="401.1" width="3.1" height="23.7" fill="#ec3446"/>
<rect x="586.23" y="420.2" width="0.75" height="41" fill="#ec3446"/>
<rect x="585.05" y="423.9" width="3.1" height="28.5" fill="#ec3446"/>
<rect x="590.12" y="432.4" width="0.75" height="23.9" fill="#089981"/>
<rect x="588.95" y="441.1" width="3.1" height="11.6" fill="#089981"/>
<rect x="594.01" y="437.8" width="0.75" height="44.6" fill="#ec3446"/>
<rect x="592.84" y="441.1" width="3.1" height="41.3" fill="#ec3446"/>
<rect x="597.91" y="462" width="0.75" height="33.1" fill="#ec3446"/>
<rect x="596.74" y="482.4" width="3.1" height="12.7" fill="#ec3446"/>
<rect x="601.81" y="473.3" width="0.75" height="43.4" fill="#089981"/>
<rect x="600.63" y="491.4" width="3.1" height="3.4" fill="#089981"/>
<rect x="605.7" y="483.8" width="0.75" height="31.5" fill="#ec3446"/>
<rect x="604.53" y="491.3" width="3.1" height="7.5" fill="#ec3446"/>
<rect x="609.6" y="453.5" width="0.75" height="52.1" fill="#089981"/>
<rect x="608.42" y="484.2" width="3.1" height="21.4" fill="#089981"/>
<rect x="613.49" y="475.9" width="0.75" height="55.6" fill="#ec3446"/>
<rect x="612.32" y="483.9" width="3.1" height="41.3" fill="#ec3446"/>
<rect x="617.38" y="462.3" width="0.75" height="68.2" fill="#089981"/>
<rect x="616.21" y="468.8" width="3.1" height="56.4" fill="#089981"/>
<rect x="621.28" y="462.7" width="0.75" height="39.9" fill="#ec3446"/>
<rect x="620.11" y="468.8" width="3.1" height="22.9" fill="#ec3446"/>
<rect x="625.18" y="460.9" width="0.75" height="38.8" fill="#089981"/>
<rect x="624" y="461.5" width="3.1" height="29.7" fill="#089981"/>
<line x1="0" y1="461.6" x2="665" y2="461.6" stroke="#089981" stroke-width="0.8" stroke-dasharray="0.85 1.75" opacity="0.65"/>
<rect x="0" y="580.7" width="710" height="1.1" fill="#e4e6ec"/>
<g transform="translate(10.350000000000001,4.6499999999999995) scale(0.38)"><clipPath id="ukc1"><circle cx="10" cy="10" r="10"/></clipPath><g clip-path="url(#ukc1)"><rect width="20" height="20" fill="#2b3f94"/><path d="M0 0L20 20M20 0L0 20" stroke="#fff" stroke-width="3.4"/><path d="M0 0L20 20M20 0L0 20" stroke="#ec5a63" stroke-width="1.2"/><path d="M10 0V20M0 10H20" stroke="#fff" stroke-width="5.6"/><path d="M10 0V20M0 10H20" stroke="#ec5a63" stroke-width="2.8"/></g></g>
<circle cx="9.8" cy="12.9" r="4.7" fill="#fff"/>
<circle cx="9.8" cy="12.9" r="3.9" fill="#1862b8"/>
<circle cx="9.8" cy="12.9" r="2.2" fill="none" stroke="#5b9be0" stroke-width="0.9" stroke-dasharray="0.7 0.45"/>
<clipPath id="pill"><rect x="176.2" y="4.8" width="37" height="11.7" rx="5.85"/></clipPath>
<g clip-path="url(#pill)"><rect x="176" y="4" width="13" height="13" fill="#dff2ee"/><rect x="189" y="4" width="11.3" height="13" fill="#f7a8c4"/><rect x="200.3" y="4" width="13.2" height="13" fill="#fde4e6"/></g>
<circle cx="183" cy="10.65" r="2.7" fill="#089981"/>
<path d="M192.2 9.7q1.2-1 2.4-0.1t2.4-0.1M192.2 12q1.2-1 2.4-0.1t2.4-0.1" fill="none" stroke="#d6156c" stroke-width="1.05" stroke-linecap="round"/>
<rect x="205.6" y="7.4" width="1.1" height="4.4" rx="0.4" fill="#f23645"/><circle cx="206.15" cy="13.5" r="0.7" fill="#f23645"/>
<rect x="5.9" y="22.8" width="38.5" height="14.8" rx="2.6" fill="#fff" stroke="#f4727c" stroke-width="1"/>
<rect x="65.3" y="22.8" width="38.3" height="14.8" rx="2.6" fill="#fff" stroke="#6b8ff7" stroke-width="1"/>
<rect x="6.8" y="59.8" width="17" height="12.2" rx="2.2" fill="#fff" stroke="#e0e3eb" stroke-width="0.9"/>
<path d="M12.4 67.3L15.3 64.9L18.2 67.3" fill="none" stroke="#131722" stroke-width="1.1" stroke-linecap="round" stroke-linejoin="round"/>
<rect x="666" y="456.1" width="36" height="21.1" rx="1.2" fill="#089981"/>
<rect x="666" y="522.5" width="40" height="11" rx="1.2" fill="#089981"/>
<circle cx="625.7" cy="572.1" r="6.85" fill="#fff" stroke="#9c27b0" stroke-width="1.1"/>
<path d="M627.4 568.3L622.6 573H625.2L623 576L627.9 571.2H625.3Z" fill="#9c27b0" stroke="#9c27b0" stroke-width="0.3" stroke-linejoin="round"/>
<circle cx="636.5" cy="572.1" r="7.6" fill="#fff"/>
<g transform="translate(631.0,566.6) scale(0.55)"><clipPath id="ukc2"><circle cx="10" cy="10" r="10"/></clipPath><g clip-path="url(#ukc2)"><rect width="20" height="20" fill="#2b3f94"/><path d="M0 0L20 20M20 0L0 20" stroke="#fff" stroke-width="3.4"/><path d="M0 0L20 20M20 0L0 20" stroke="#ec5a63" stroke-width="1.2"/><path d="M10 0V20M0 10H20" stroke="#fff" stroke-width="5.6"/><path d="M10 0V20M0 10H20" stroke="#ec5a63" stroke-width="2.8"/></g></g>
<circle cx="636.5" cy="572.1" r="6.95" fill="none" stroke="#ef5b66" stroke-width="1.1"/>
<polygon points="683.9,590.9 686.2,586.4 691,586.4 693.3,590.9 691,595.4 686.2,595.4" fill="none" stroke="#3a3e49" stroke-width="0.95" stroke-linejoin="round"/>
<circle cx="688.6" cy="590.9" r="1.7" fill="none" stroke="#3a3e49" stroke-width="0.9"/>
<g transform="translate(7.6,559.35) scale(0.538)"><g stroke="#fff" stroke-width="3.4" stroke-linejoin="round" fill="#fff"><path d="M14 22H7V11H0V4h14v18zM28 22h-8l7.5-18h8L28 22z"/><circle cx="20" cy="8" r="4"/></g><g fill="#131722"><path d="M14 22H7V11H0V4h14v18zM28 22h-8l7.5-18h8L28 22z"/><circle cx="20" cy="8" r="4"/></g></g>
<g font-family="Liberation Sans, sans-serif" font-weight="400" font-size="13.4" stroke-linejoin="round"><text x="32" y="571.1" fill="#fff" stroke="#fff" stroke-width="2.6" textLength="77.9" lengthAdjust="spacingAndGlyphs">TradingView</text><text x="32" y="571.1" fill="#131722" stroke="#131722" stroke-width="0.45" textLength="77.9" lengthAdjust="spacingAndGlyphs">TradingView</text></g>
</svg>
<div class="t" id="ti1" style="left:19.68px;top:5.78px;font-size:10.6px;color:#131722;letter-spacing:-0.450px;-webkit-text-stroke:0.15px currentColor;">Euro</div>
<div class="t" id="ti2" style="left:46.13px;top:5.74px;font-size:10.6px;color:#131722;letter-spacing:0.000px;-webkit-text-stroke:0.15px currentColor;">/</div>
<div class="t" id="ti3" style="left:51.98px;top:5.73px;font-size:10.6px;color:#131722;letter-spacing:0.189px;-webkit-text-stroke:0.15px currentColor;">British</div>
<div class="t" id="ti4" style="left:84.75px;top:5.92px;font-size:10.6px;color:#131722;letter-spacing:-0.607px;-webkit-text-stroke:0.15px currentColor;">Pound</div>
<div class="t" id="ti5" style="left:115.75px;top:5.74px;font-size:10.6px;color:#131722;letter-spacing:0.000px;-webkit-text-stroke:0.15px currentColor;">·</div>
<div class="t" id="ti6" style="left:121.47px;top:5.51px;font-size:10.6px;color:#131722;letter-spacing:-1.749px;-webkit-text-stroke:0.15px currentColor;">1D</div>
<div class="t" id="ti7" style="left:135.62px;top:5.74px;font-size:10.6px;color:#131722;letter-spacing:0.000px;-webkit-text-stroke:0.15px currentColor;">·</div>
<div class="t" id="ti8" style="left:140.89px;top:5.74px;font-size:10.6px;color:#131722;letter-spacing:-1.549px;-webkit-text-stroke:0.15px currentColor;">FXCM</div>
<div class="t" id="oL" style="left:223.33px;top:8.79px;font-size:8.1px;color:#131722;letter-spacing:0.000px;transform:scaleY(1.1);transform-origin:0 6.21px;">O</div>
<div class="t" id="oV" style="left:229.94px;top:8.74px;font-size:8.1px;color:#089981;letter-spacing:0.074px;transform:scaleY(1.1);transform-origin:0 6.26px;">0.85462</div>
<div class="t" id="hL" style="left:263.71px;top:8.81px;font-size:8.1px;color:#131722;letter-spacing:0.000px;transform:scaleY(1.1);transform-origin:0 6.19px;">H</div>
<div class="t" id="hV" style="left:269.31px;top:8.74px;font-size:8.1px;color:#089981;letter-spacing:0.142px;transform:scaleY(1.1);transform-origin:0 6.26px;">0.85764</div>
<div class="t" id="lL" style="left:303.28px;top:8.74px;font-size:8.1px;color:#131722;letter-spacing:0.000px;transform:scaleY(1.1);transform-origin:0 6.26px;">L</div>
<div class="t" id="lV" style="left:307.85px;top:8.75px;font-size:8.1px;color:#089981;letter-spacing:0.077px;transform:scaleY(1.1);transform-origin:0 6.25px;">0.85377</div>
<div class="t" id="cL" style="left:341.12px;top:8.76px;font-size:8.1px;color:#131722;letter-spacing:0.000px;transform:scaleY(1.1);transform-origin:0 6.24px;">C</div>
<div class="t" id="cV" style="left:346.34px;top:8.74px;font-size:8.1px;color:#089981;letter-spacing:0.195px;transform:scaleY(1.1);transform-origin:0 6.26px;">0.85758</div>
<div class="t" id="chg" style="left:381.46px;top:8.75px;font-size:8.1px;color:#089981;letter-spacing:-0.052px;transform:scaleY(1.1);transform-origin:0 6.25px;">+0.00296 (+0.35%)</div>
<div class="t" id="bid" style="left:10.18px;top:26.52px;font-size:8.5px;color:#f23645;letter-spacing:-0.011px;transform:scaleY(1.08);transform-origin:0 7.08px;">0.8575</div>
<div class="t" id="bids" style="left:36.49px;top:26.75px;font-size:6.6px;color:#f23645;letter-spacing:0.000px;transform:scaleY(1.05);transform-origin:0 4.85px;">8</div>
<div class="t" id="spr" style="left:49.50px;top:27.69px;font-size:8.2px;color:#131722;letter-spacing:-0.506px;transform:scaleY(1.08);transform-origin:0 5.91px;">0.6</div>
<div class="t" id="ask" style="left:69.59px;top:26.64px;font-size:8.5px;color:#2962ff;letter-spacing:0.031px;transform:scaleY(1.08);transform-origin:0 6.96px;">0.8576</div>
<div class="t" id="asks" style="left:96.04px;top:26.50px;font-size:6.6px;color:#2962ff;letter-spacing:0.000px;transform:scaleY(1.05);transform-origin:0 5.10px;">4</div>
<div class="t" id="vol" style="left:6.20px;top:45.63px;font-size:8.0px;color:#131722;letter-spacing:0.000px;transform:scaleY(1.1);transform-origin:0 6.77px;">Vol</div>
<div class="t" id="volv" style="left:22.50px;top:46.23px;font-size:8.0px;color:#089981;letter-spacing:0.076px;transform:scaleY(1.1);transform-origin:0 6.17px;">176.737K</div>
<div class="t" id="pl" style="left:670.59px;top:459.15px;font-size:8.0px;color:#ffffff;letter-spacing:-0.186px;transform:scaleY(1.1);transform-origin:0 6.05px;">0.85758</div>
<div class="t" id="cd" style="left:670.63px;top:469.03px;font-size:8.0px;color:#c9ece6;letter-spacing:-0.205px;transform:scaleY(1.1);transform-origin:0 6.17px;">28:21</div>
<div class="t" id="vl" style="left:671.08px;top:525.47px;font-size:8.0px;color:#ffffff;letter-spacing:-0.295px;transform:scaleY(1.1);transform-origin:0 5.93px;">176.737K</div>
<div class="t" id="ax0" style="left:670.55px;top:33.99px;font-size:8.0px;color:#131722;letter-spacing:-0.159px;transform:scaleY(1.12);transform-origin:0 6.11px;">0.90000</div>
<div class="t" id="ax1" style="left:670.42px;top:84.39px;font-size:8.0px;color:#131722;letter-spacing:-0.176px;transform:scaleY(1.12);transform-origin:0 5.81px;">0.89500</div>
<div class="t" id="ax2" style="left:670.42px;top:134.08px;font-size:8.0px;color:#131722;letter-spacing:-0.194px;transform:scaleY(1.12);transform-origin:0 6.22px;">0.89000</div>
<div class="t" id="ax3" style="left:670.42px;top:184.35px;font-size:8.0px;color:#131722;letter-spacing:-0.176px;transform:scaleY(1.12);transform-origin:0 6.05px;">0.88500</div>
<div class="t" id="ax4" style="left:670.73px;top:234.58px;font-size:8.0px;color:#131722;letter-spacing:-0.219px;transform:scaleY(1.12);transform-origin:0 5.92px;">0.88000</div>
<div class="t" id="ax5" style="left:670.66px;top:284.55px;font-size:8.0px;color:#131722;letter-spacing:-0.217px;transform:scaleY(1.12);transform-origin:0 6.05px;">0.87500</div>
<div class="t" id="ax6" style="left:670.72px;top:334.65px;font-size:8.0px;color:#131722;letter-spacing:-0.196px;transform:scaleY(1.12);transform-origin:0 6.05px;">0.87000</div>
<div class="t" id="ax7" style="left:670.42px;top:384.87px;font-size:8.0px;color:#131722;letter-spacing:-0.176px;transform:scaleY(1.12);transform-origin:0 5.93px;">0.86500</div>
<div class="t" id="ax8" style="left:670.55px;top:434.69px;font-size:8.0px;color:#131722;letter-spacing:-0.163px;transform:scaleY(1.12);transform-origin:0 6.21px;">0.86000</div>
<div class="t" id="ax9" style="left:670.42px;top:484.83px;font-size:8.0px;color:#131722;letter-spacing:-0.176px;transform:scaleY(1.12);transform-origin:0 6.17px;">0.85500</div>
<div class="t" id="ax10" style="left:670.42px;top:535.11px;font-size:8.0px;color:#131722;letter-spacing:-0.184px;transform:scaleY(1.12);transform-origin:0 5.99px;">0.85000</div>
<div class="t" id="tm2023" style="left:74.76px;top:586.83px;font-size:8.0px;color:#131722;letter-spacing:0.013px;font-weight:700;transform:scaleY(1.1);transform-origin:0 6.17px;">2023</div>
<div class="t" id="tmFeb" style="left:162.32px;top:586.93px;font-size:8.0px;color:#131722;letter-spacing:-0.210px;transform:scaleY(1.1);transform-origin:0 6.07px;">Feb</div>
<div class="t" id="tmMar" style="left:240.92px;top:587.05px;font-size:8.0px;color:#131722;letter-spacing:-0.466px;transform:scaleY(1.1);transform-origin:0 5.95px;">Mar</div>
<div class="t" id="tmApr" style="left:330.80px;top:586.95px;font-size:8.0px;color:#131722;letter-spacing:0.000px;transform:scaleY(1.1);transform-origin:0 6.05px;">Apr</div>
<div class="t" id="tmMay" style="left:407.27px;top:586.95px;font-size:8.0px;color:#131722;letter-spacing:-0.246px;transform:scaleY(1.1);transform-origin:0 6.05px;">May</div>
<div class="t" id="tmJun" style="left:497.92px;top:586.97px;font-size:8.0px;color:#131722;letter-spacing:-0.055px;transform:scaleY(1.1);transform-origin:0 6.03px;">Jun</div>
<div class="t" id="tmJul" style="left:584.36px;top:586.92px;font-size:8.0px;color:#131722;letter-spacing:0.460px;transform:scaleY(1.1);transform-origin:0 6.08px;">Jul</div>
<div class="t" id="tm24" style="left:644.44px;top:586.83px;font-size:8.0px;color:#131722;letter-spacing:0.157px;transform:scaleY(1.1);transform-origin:0 6.17px;">24</div>
</body></html>
